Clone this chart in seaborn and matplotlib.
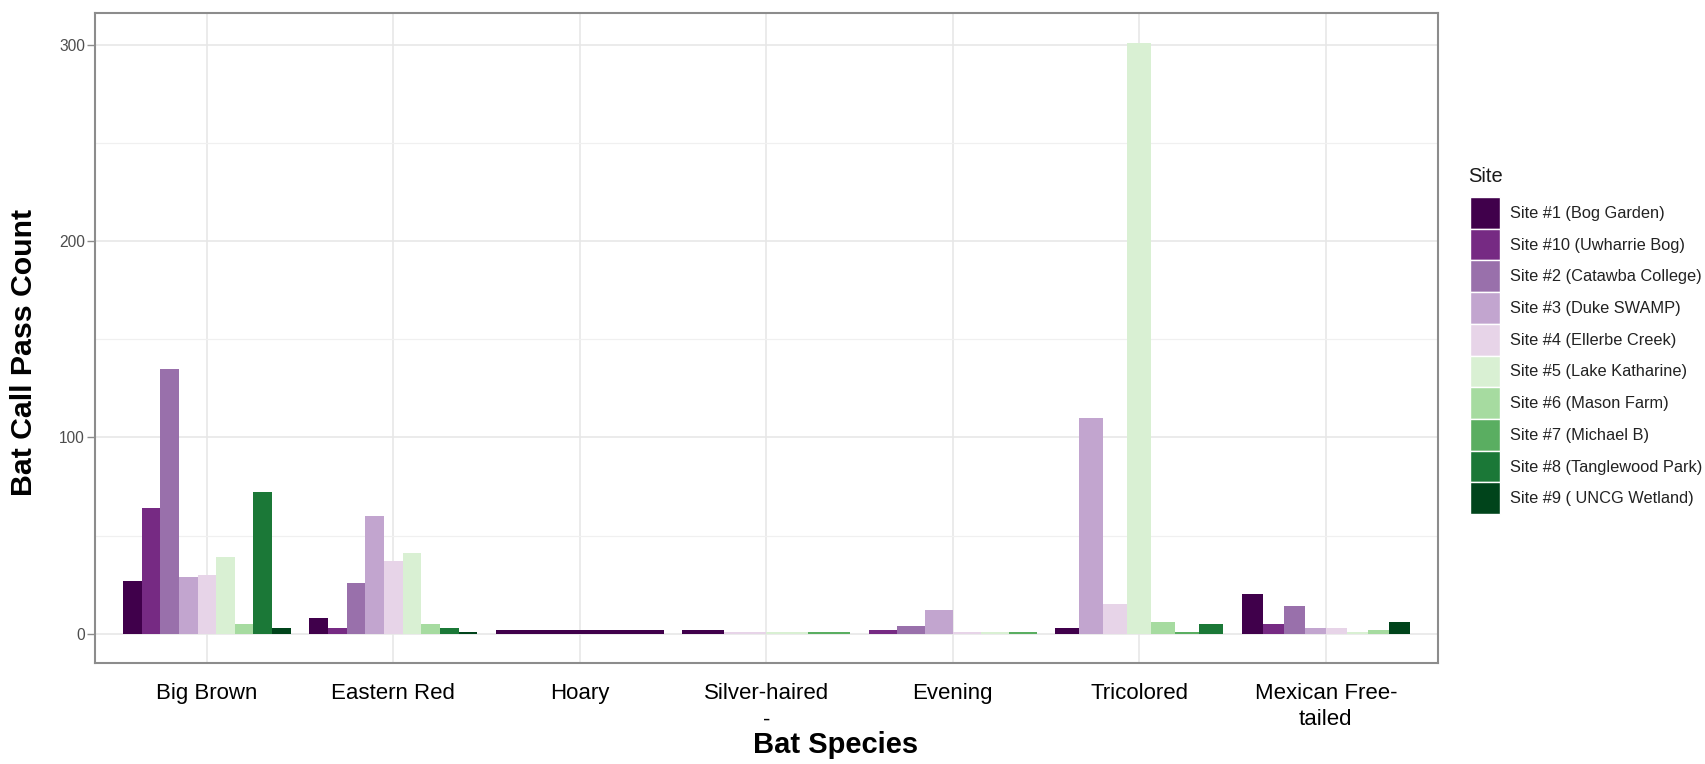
import matplotlib
matplotlib.use('agg')
import matplotlib.pyplot as plt
from matplotlib.patches import Patch
from matplotlib.ticker import MultipleLocator
import seaborn as sns
import pandas as pd

species = ["Big Brown", "Eastern Red", "Hoary", "Silver-haired",
           "Evening", "Tricolored", "Mexican Free-tailed"]
tick_labels = ["Big Brown", "Eastern Red", "Hoary", "Silver-haired\n-",
               "Evening", "Tricolored", "Mexican Free-\ntailed"]

sites = ["Site #1 (Bog Garden)", "Site #10 (Uwharrie Bog)", "Site #2 (Catawba College)",
         "Site #3 (Duke SWAMP)", "Site #4 (Ellerbe Creek)", "Site #5 (Lake Katharine)",
         "Site #6 (Mason Farm)", "Site #7 (Michael B)", "Site #8 (Tanglewood Park)",
         "Site #9 ( UNCG Wetland)"]
site_colors = ["#40004b", "#762a83", "#9970ab", "#c2a5cf", "#e7d4e8",
               "#d9f0d3", "#a6dba0", "#5aae61", "#1b7837", "#00441b"]

# index into `sites` for the sites recorded for each species, and their counts
big_brown_sites = [0, 1, 2, 3, 4, 5, 6, 8, 9]
big_brown_counts = [27, 64, 135, 29, 30, 39, 5, 72, 3]
eastern_red_sites = [0, 1, 2, 3, 4, 5, 6, 8, 9]
eastern_red_counts = [8, 3, 26, 60, 37, 41, 5, 3, 1]
hoary_sites = [0]
hoary_counts = [2]
silver_sites = [0, 4, 5, 7]
silver_counts = [2, 1, 1, 1]
evening_sites = [1, 2, 3, 4, 5, 7]
evening_counts = [2, 4, 12, 1, 1, 1]
tricolored_sites = [0, 3, 4, 5, 6, 7, 8]
tricolored_counts = [3, 110, 15, 301, 6, 1, 5]
mexican_sites = [0, 1, 2, 3, 4, 5, 6, 9]
mexican_counts = [20, 5, 14, 3, 3, 1, 2, 6]

site_lists = [big_brown_sites, eastern_red_sites, hoary_sites, silver_sites,
              evening_sites, tricolored_sites, mexican_sites]
count_lists = [big_brown_counts, eastern_red_counts, hoary_counts, silver_counts,
               evening_counts, tricolored_counts, mexican_counts]

rows = []
for sp, sl, cl in zip(species, site_lists, count_lists):
    for s, c in zip(sl, cl):
        rows.append({"Species": sp, "Site": sites[s], "Count": c})
df = pd.DataFrame(rows)
palette = dict(zip(sites, site_colors))

sns.set_style("white")
plt.rcParams['font.family'] = ['Liberation Sans', 'DejaVu Sans']
plt.rcParams['text.color'] = 'black'

fig = plt.figure(figsize=(17.05, 7.64), dpi=100)
ax = fig.add_axes([0.0557, 0.1318, 0.7875, 0.8508])

# one call per species so the dodge splits the width among the sites present (like ggplot)
for sp in species:
    sub = df[df.Species == sp]
    present = [s for s in sites if s in set(sub.Site)]
    sns.barplot(data=sub, x="Species", y="Count", hue="Site", order=species,
                hue_order=present, palette=palette, width=0.9, errorbar=None,
                saturation=1, linewidth=0, legend=False, ax=ax)

ax.set_xticks(range(len(species)))
ax.set_xticklabels(tick_labels, linespacing=1.35)
ax.set_xlim(-0.6, 6.6)
ax.set_ylim(-15.05, 316.05)
ax.set_yticks([0, 100, 200, 300])
ax.yaxis.set_minor_locator(MultipleLocator(50))
ax.set_axisbelow(True)
ax.grid(which='major', color='#e6e6e6', lw=1.1)
ax.grid(which='minor', axis='y', color='#f0f0f0', lw=0.9)
ax.set_xlabel("")
ax.set_ylabel("")

for sp_ in ax.spines.values():
    sp_.set_color('#8c8c8c')
    sp_.set_linewidth(1.5)

ax.tick_params(axis='x', length=3.6, width=1, color='#8c8c8c', pad=10.5,
               labelsize=16, labelcolor='black')
ax.tick_params(axis='y', length=5.8, width=1, color='#8c8c8c', pad=1.5,
               labelsize=11.2, labelcolor='#4d4d4d', left=True)
ax.tick_params(which='minor', length=0)

fig.text(836 / 1705, 1 - 745 / 764, "Bat Species", fontsize=21, fontweight='bold',
         ha='center', va='center', color='black')
fig.text(24 / 1705, 1 - 352 / 764, "Bat Call Pass Count", fontsize=21.8, fontweight='bold',
         ha='center', va='center', rotation=90, color='black')

# legend: title as its own text, keys stacked tightly like ggplot
fig.text(1468 / 1705, 1 - 176 / 764, "Site", fontsize=14.5, ha='left', va='center',
         color='#1a1a1a')
handles = [Patch(facecolor=c, edgecolor='white', linewidth=1) for c in site_colors]
leg = fig.legend(handles, sites, loc="upper left",
                 bbox_to_anchor=(1470 / 1705, 1 - 197 / 764), frameon=False,
                 fontsize=11.8, handlelength=1.8, handleheight=2.6,
                 labelspacing=0.0, handletextpad=0.65,
                 borderaxespad=0, borderpad=0)
for t in leg.get_texts():
    t.set_color('#222222')

plt.savefig("out.png", dpi=100)
